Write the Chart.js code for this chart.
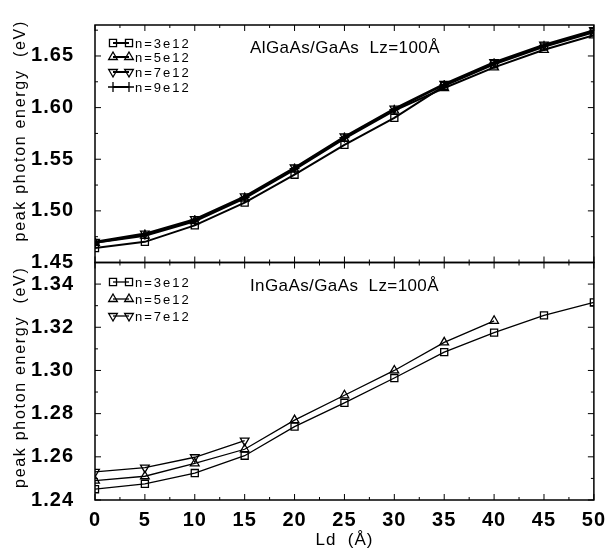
<!DOCTYPE html>
<html>
<head>
<meta charset="utf-8">
<script src="https://cdn.jsdelivr.net/npm/chart.js"></script>
<style>
  body { margin: 0; background: #fff; }
</style>
</head>
<body>
<canvas id="myChart" width="605" height="555"></canvas>
<script>
// Ld values (Angstrom), shared x axis
const ld = [0, 5, 10, 15, 20, 25, 30, 35, 40, 45, 50];
const xTicks = [0, 5, 10, 15, 20, 25, 30, 35, 40, 45, 50];

// top panel: AlGaAs/GaAs
const alN3 = [1.464, 1.470, 1.486, 1.508, 1.535, 1.564, 1.590, 1.621, 1.642, 1.659, 1.673];
const alN5 = [1.469, 1.476, 1.490, 1.512, 1.540, 1.570, 1.597, 1.619, 1.639, 1.656, 1.670];
const alN7 = [1.470, 1.478, 1.492, 1.514, 1.542, 1.572, 1.599, 1.623, 1.644, 1.661, 1.675];
const alN9 = [1.469, 1.477, 1.491, 1.513, 1.541, 1.571, 1.598, 1.622, 1.643, 1.660, 1.674];
const topTicks = [1.45, 1.50, 1.55, 1.60, 1.65];

// bottom panel: InGaAs/GaAs
const inN3 = [1.245, 1.2475, 1.2525, 1.2605, 1.274, 1.285, 1.2965, 1.3085, 1.3175, 1.3255, 1.3315];
const inN5 = [1.249, 1.251, 1.257, 1.2635, 1.277, 1.2885, 1.300, 1.313, 1.323];
const inN7 = [1.253, 1.255, 1.2598, 1.2675];
const lowTicks = [1.24, 1.26, 1.28, 1.30, 1.32, 1.34];

const seriesNames = ["n=3e12", "n=5e12", "n=7e12", "n=9e12"];

function pts(arr) {
  return arr.map((v, i) => ({ x: ld[i], y: v }));
}

const markers = [
  { pointStyle: "rect", rotation: 0 },
  { pointStyle: "triangle", rotation: 0 },
  { pointStyle: "triangle", rotation: 180 },
  { pointStyle: "cross", rotation: 0 },
];

function ds(name, arr, axis, k, width) {
  return {
    label: name,
    data: pts(arr),
    yAxisID: axis,
    borderColor: "#000",
    borderWidth: width,
    pointStyle: markers[k].pointStyle,
    pointRotation: markers[k].rotation,
    pointRadius: 5,
    pointBorderWidth: 1.3,
    pointBorderColor: "#000",
    pointBackgroundColor: "rgba(255,255,255,0)",
    tension: 0,
  };
}

const FONT = "'Liberation Sans', Arial, sans-serif";

function drawMarker(ctx, k, x, y) {
  ctx.save();
  ctx.fillStyle = "rgba(255,255,255,0)";
  ctx.lineWidth = 1.3;
  Chart.helpers.drawPoint(ctx, {
    pointStyle: markers[k].pointStyle,
    rotation: markers[k].rotation,
    radius: 5,
    borderWidth: 1.3,
  }, x, y);
  ctx.restore();
}

const frame = {
  id: "frame",
  beforeDraw(chart) {
    chart.ctx.letterSpacing = "1px";
  },
  afterDraw(chart) {
    const ctx = chart.ctx;
    const area = chart.chartArea;
    const xs = chart.scales.x;
    const panels = [
      { s: chart.scales.yTop, major: topTicks, minorStep: 0.025, title: "AlGaAs/GaAs  Lz=100Å", names: 4, rowY: [43, 57, 72, 87], lw: 2, tShift: -13 },
      { s: chart.scales.yLow, major: lowTicks, minorStep: 0.01, title: "InGaAs/GaAs  Lz=100Å", names: 3, rowY: [282, 299, 316], lw: 1.3, tShift: -4 },
    ];
    ctx.save();
    ctx.strokeStyle = "#000";
    ctx.fillStyle = "#000";
    panels.forEach(p => {
      const s = p.s;
      ctx.lineWidth = 1.5;
      ctx.strokeRect(area.left, s.top, area.right - area.left, s.bottom - s.top);
      ctx.lineWidth = 1;
      ctx.beginPath();
      // y ticks left + right
      for (let v = s.min; v <= s.max + 1e-9; v += p.minorStep) {
        const y = s.getPixelForValue(v);
        const isMajor = p.major.some(m => Math.abs(m - v) < 1e-6);
        const len = isMajor ? 6 : 3;
        ctx.moveTo(area.left, y); ctx.lineTo(area.left + len, y);
        ctx.moveTo(area.right, y); ctx.lineTo(area.right - len, y);
      }
      // x ticks top + bottom of panel
      for (let v = 0; v <= 50; v += 2.5) {
        const x = xs.getPixelForValue(v);
        const len = xTicks.includes(v) ? 6 : 3;
        ctx.moveTo(x, s.top); ctx.lineTo(x, s.top + len);
        ctx.moveTo(x, s.bottom); ctx.lineTo(x, s.bottom - len);
      }
      ctx.stroke();

      // axis title
      ctx.save();
      ctx.letterSpacing = "1.7px";
      ctx.font = "16px " + FONT;
      ctx.textAlign = "center";
      ctx.textBaseline = "middle";
      ctx.translate(21, (s.top + s.bottom) / 2 + p.tShift);
      ctx.rotate(-Math.PI / 2);
      ctx.fillText("peak photon energy  (eV)", 0, 0);
      ctx.restore();

      // panel label
      ctx.save();
      ctx.letterSpacing = "0.4px";
      ctx.font = "17px " + FONT;
      ctx.textAlign = "left";
      ctx.textBaseline = "alphabetic";
      ctx.fillText(p.title, 250, s.top + 28);
      ctx.restore();

      // legend
      ctx.save();
      ctx.letterSpacing = "2px";
      ctx.font = "13px " + FONT;
      ctx.textBaseline = "middle";
      for (let k = 0; k < p.names; k++) {
        const y = p.rowY[k];
        ctx.lineWidth = p.lw;
        ctx.beginPath();
        ctx.moveTo(113, y); ctx.lineTo(129, y);
        ctx.stroke();
        drawMarker(ctx, k, 113, y);
        drawMarker(ctx, k, 129, y);
        ctx.fillText(seriesNames[k], 135, y + 1);
      }
      ctx.restore();
    });
    ctx.restore();
  },
};

const ctx = document.getElementById("myChart").getContext("2d");
const chart = new Chart(ctx, {
  type: "line",
  data: {
    datasets: [
      ds(seriesNames[0], alN3, "yTop", 0, 2),
      ds(seriesNames[1], alN5, "yTop", 1, 2),
      ds(seriesNames[2], alN7, "yTop", 2, 2),
      ds(seriesNames[3], alN9, "yTop", 3, 2),
      ds(seriesNames[0], inN3, "yLow", 0, 1.3),
      ds(seriesNames[1], inN5, "yLow", 1, 1.3),
      ds(seriesNames[2], inN7, "yLow", 2, 1.3),
    ],
  },
  options: {
    responsive: false,
    animation: false,
    layout: { padding: { top: 8, right: 10, left: 0, bottom: 0 } },
    plugins: { legend: { display: false }, tooltip: { enabled: false } },
    scales: {
      x: {
        type: "linear",
        min: 0,
        max: 50,
        afterBuildTicks: s => { s.ticks = xTicks.map(v => ({ value: v })); },
        afterFit: s => { s.height = 55; },
        grid: { display: false },
        border: { display: false },
        ticks: { color: "#000", padding: 0, font: { family: FONT, size: 20, weight: "bold" } },
        title: { display: true, text: "Ld  (Å)", color: "#000", padding: { top: 0, bottom: 4 }, font: { family: FONT, size: 17 } },
      },
      yLow: {
        type: "linear",
        position: "left",
        stack: "panels",
        stackWeight: 1,
        min: 1.24,
        max: 1.35,
        afterBuildTicks: s => { s.ticks = lowTicks.map(v => ({ value: v })); },
        afterFit: s => { s.width = 95; },
        grid: { display: false },
        border: { display: false },
        ticks: { color: "#000", padding: 13, font: { family: FONT, size: 20, weight: "bold" }, callback: v => v.toFixed(2) },
      },
      yTop: {
        type: "linear",
        position: "left",
        stack: "panels",
        stackWeight: 1,
        min: 1.45,
        max: 1.68,
        afterBuildTicks: s => { s.ticks = topTicks.map(v => ({ value: v })); },
        afterFit: s => { s.width = 95; },
        grid: { display: false },
        border: { display: false },
        ticks: { color: "#000", padding: 13, font: { family: FONT, size: 20, weight: "bold" }, callback: v => v.toFixed(2) },
      },
    },
  },
  plugins: [frame],
});
</script>
</body>
</html>
